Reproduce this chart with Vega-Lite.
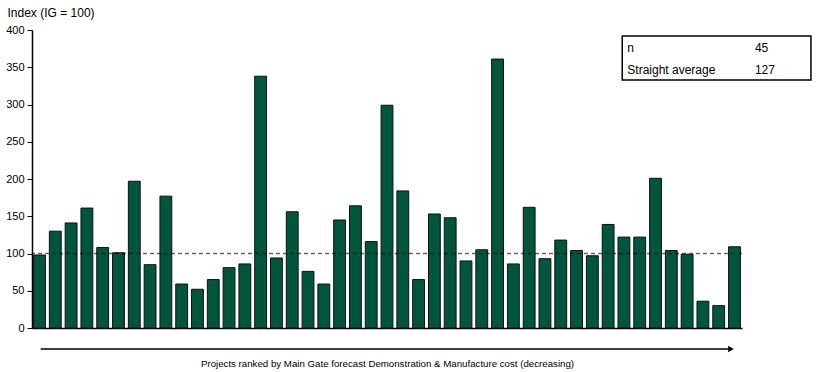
{
  "$schema": "https://vega.github.io/schema/vega-lite/v6.json",
  "width": 710,
  "height": 298,
  "autosize": {"type": "none"},
  "padding": {"left": 32, "top": 30, "right": 75, "bottom": 44},
  "background": "white",
  "config": {
    "view": {"stroke": null},
    "font": "Liberation Sans",
    "axis": {"grid": false, "labelOverlap": false},
    "axisY": {
      "labelOverlap": false,
      "labelFontSize": 11,
      "labelColor": "#000000",
      "labelPadding": 3,
      "tickSize": 5,
      "tickColor": "#000000",
      "domainColor": "#000000",
      "domainWidth": 1.5
    }
  },
  "layer": [
    {
      "data": {
        "values": [
          {"rank": 1, "index": 98}, {"rank": 2, "index": 130}, {"rank": 3, "index": 141},
          {"rank": 4, "index": 161}, {"rank": 5, "index": 108}, {"rank": 6, "index": 101},
          {"rank": 7, "index": 197}, {"rank": 8, "index": 85}, {"rank": 9, "index": 177},
          {"rank": 10, "index": 59}, {"rank": 11, "index": 52}, {"rank": 12, "index": 65},
          {"rank": 13, "index": 81}, {"rank": 14, "index": 86}, {"rank": 15, "index": 338},
          {"rank": 16, "index": 94}, {"rank": 17, "index": 156}, {"rank": 18, "index": 76},
          {"rank": 19, "index": 59}, {"rank": 20, "index": 145}, {"rank": 21, "index": 164},
          {"rank": 22, "index": 116}, {"rank": 23, "index": 299}, {"rank": 24, "index": 184},
          {"rank": 25, "index": 65}, {"rank": 26, "index": 153}, {"rank": 27, "index": 148},
          {"rank": 28, "index": 90}, {"rank": 29, "index": 105}, {"rank": 30, "index": 361},
          {"rank": 31, "index": 86}, {"rank": 32, "index": 162}, {"rank": 33, "index": 93},
          {"rank": 34, "index": 118}, {"rank": 35, "index": 104}, {"rank": 36, "index": 97},
          {"rank": 37, "index": 139}, {"rank": 38, "index": 122}, {"rank": 39, "index": 122},
          {"rank": 40, "index": 201}, {"rank": 41, "index": 104}, {"rank": 42, "index": 99},
          {"rank": 43, "index": 36}, {"rank": 44, "index": 30}, {"rank": 45, "index": 109}
        ]
      },
      "mark": {"type": "bar", "color": "#00563C", "stroke": "#111111", "strokeWidth": 1},
      "encoding": {
        "x": {
          "field": "rank",
          "type": "ordinal",
          "scale": {"paddingInner": 0.25, "paddingOuter": 0.1},
          "axis": {
            "title": "Projects ranked by Main Gate forecast Demonstration & Manufacture cost (decreasing)",
            "labels": false,
            "ticks": false,
            "domainColor": "#000000",
            "domainWidth": 1.5,
            "titleFontSize": 9.7,
            "titleFontWeight": "normal",
            "titleColor": "#000000",
            "titleY": 35,
            "titleBaseline": "middle"
          }
        },
        "y": {
          "field": "index",
          "type": "quantitative",
          "scale": {"domain": [0, 400], "nice": false},
          "axis": {
            "values": [0, 50, 100, 150, 200, 250, 300, 350, 400],
            "title": "Index (IG = 100)",
            "titleAngle": 0,
            "titleAlign": "left",
            "titleBaseline": "middle",
            "titleX": -25,
            "titleY": -18,
            "titleFontSize": 12,
            "titleFontWeight": "normal",
            "titleColor": "#000000"
          }
        }
      }
    },
    {
      "data": {"values": [{"ref": 100}]},
      "mark": {"type": "rule", "stroke": "#000000", "strokeOpacity": 0.6, "strokeWidth": 1.6, "strokeDash": [4, 3]},
      "encoding": {"y": {"field": "ref", "type": "quantitative", "axis": {"values": [0, 50, 100, 150, 200, 250, 300, 350, 400]}}}
    },
    {
      "data": {"values": [{"box": "stats"}]},
      "mark": {"type": "rect", "fill": "white", "stroke": "#000000", "strokeWidth": 1.5},
      "encoding": {
        "x": {"datum": 37.41, "type": "quantitative", "scale": {"domain": [0, 45], "nice": false, "zero": false}, "axis": null},
        "x2": {"datum": 49.37},
        "y": {"datum": 392, "type": "quantitative", "axis": {"values": [0, 50, 100, 150, 200, 250, 300, 350, 400]}},
        "y2": {"datum": 333}
      }
    },
    {
      "data": {"values": [{"label": "n", "value": "45"}]},
      "layer": [
        {
          "mark": {"type": "text", "align": "left", "baseline": "middle", "fontSize": 12, "color": "#000000"},
          "encoding": {
            "x": {"datum": 37.73, "type": "quantitative", "scale": {"domain": [0, 45], "nice": false, "zero": false}, "axis": null},
            "y": {"datum": 375.5, "type": "quantitative", "axis": {"values": [0, 50, 100, 150, 200, 250, 300, 350, 400]}},
            "text": {"field": "label"}
          }
        },
        {
          "mark": {"type": "text", "align": "left", "baseline": "middle", "fontSize": 12, "color": "#000000"},
          "encoding": {
            "x": {"datum": 45.82, "type": "quantitative", "scale": {"domain": [0, 45], "nice": false, "zero": false}, "axis": null},
            "y": {"datum": 375.5, "type": "quantitative", "axis": {"values": [0, 50, 100, 150, 200, 250, 300, 350, 400]}},
            "text": {"field": "value"}
          }
        }
      ]
    },
    {
      "data": {"values": [{"label": "Straight average", "value": "127"}]},
      "layer": [
        {
          "mark": {"type": "text", "align": "left", "baseline": "middle", "fontSize": 12, "color": "#000000"},
          "encoding": {
            "x": {"datum": 37.73, "type": "quantitative", "scale": {"domain": [0, 45], "nice": false, "zero": false}, "axis": null},
            "y": {"datum": 346.3, "type": "quantitative", "axis": {"values": [0, 50, 100, 150, 200, 250, 300, 350, 400]}},
            "text": {"field": "label"}
          }
        },
        {
          "mark": {"type": "text", "align": "left", "baseline": "middle", "fontSize": 12, "color": "#000000"},
          "encoding": {
            "x": {"datum": 45.82, "type": "quantitative", "scale": {"domain": [0, 45], "nice": false, "zero": false}, "axis": null},
            "y": {"datum": 346.3, "type": "quantitative", "axis": {"values": [0, 50, 100, 150, 200, 250, 300, 350, 400]}},
            "text": {"field": "value"}
          }
        }
      ]
    },
    {
      "data": {"values": [{"arrow": "ranking"}]},
      "layer": [
        {
          "mark": {"type": "rule", "stroke": "#000000", "strokeWidth": 1.3},
          "encoding": {
            "x": {"datum": 0.55, "type": "quantitative", "scale": {"domain": [0, 45], "nice": false, "zero": false}, "axis": null},
            "x2": {"datum": 44.2},
            "y": {"datum": -28.2, "type": "quantitative", "axis": {"values": [0, 50, 100, 150, 200, 250, 300, 350, 400]}}
          }
        },
        {
          "mark": {"type": "point", "shape": "triangle-right", "filled": true, "color": "#000000", "opacity": 1, "size": 40},
          "encoding": {
            "x": {"datum": 44.3, "type": "quantitative", "scale": {"domain": [0, 45], "nice": false, "zero": false}, "axis": null},
            "y": {"datum": -28.2, "type": "quantitative", "axis": {"values": [0, 50, 100, 150, 200, 250, 300, 350, 400]}}
          }
        }
      ]
    }
  ],
  "resolve": {"scale": {"x": "independent"}}
}
